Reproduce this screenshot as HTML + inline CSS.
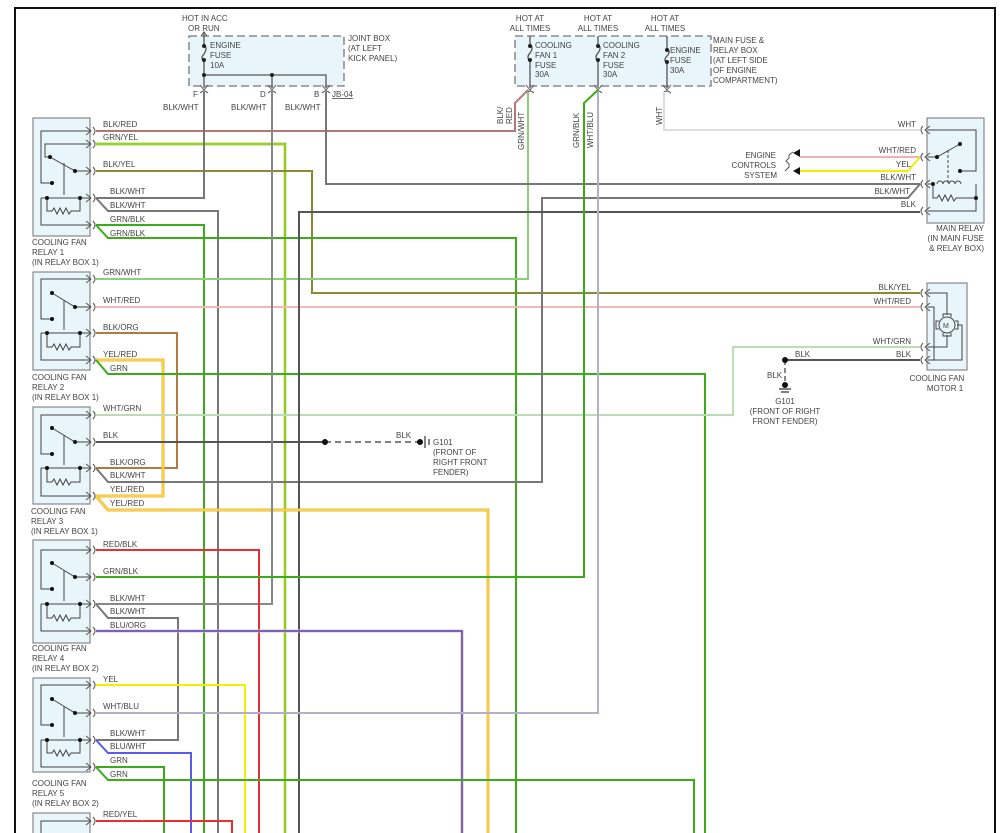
<!DOCTYPE html>
<html><head><meta charset="utf-8"><style>
html,body{margin:0;padding:0;background:#fff;}
svg{display:block;font-family:"Liberation Sans",sans-serif;font-size:8px;}
text{fill:#444;}
</style></head><body>
<svg width="1006" height="833" viewBox="0 0 1006 833" xmlns="http://www.w3.org/2000/svg">
<defs>
<g id="pinL"><path d="M86,-4 L91,0 L86,4" fill="none" stroke="#555" stroke-width="1"/><path d="M93,-4 Q97,0 93,4" fill="none" stroke="#555" stroke-width="1"/></g>
<g id="pinR"><path d="M930,-4 L925,0 L930,4" fill="none" stroke="#555" stroke-width="1"/><path d="M923,-4 Q919,0 923,4" fill="none" stroke="#555" stroke-width="1"/></g>
<g id="pinD"><path d="M-4,-3 L0,2 L4,-3" fill="none" stroke="#555" stroke-width="1"/><path d="M-4,5 Q0,1 4,5" fill="none" stroke="#555" stroke-width="1"/></g>
</defs>
<!-- frame -->
<path d="M15,833 V8 H995 V833" fill="none" stroke="#111" stroke-width="2"/>

<!-- top boxes -->
<rect x="189" y="36" width="155" height="50" fill="#e8f5fb" stroke="#777" stroke-width="1.3" stroke-dasharray="8,4"/>
<rect x="515" y="36" width="196" height="50" fill="#e8f5fb" stroke="#777" stroke-width="1.3" stroke-dasharray="8,4"/>
<g stroke="#555" stroke-width="1.3" fill="none">
<path d="M204,33 V44 M204,54 q-4,4 0,8 M204,62 V88"/>
<path d="M204,44 q4,4 0,10"/>
<path d="M204,75 H326 V88 M272,75 V88"/>
<path d="M530,36 V44 M530,62 V88"/><path d="M530,44 q4,4 0,9 q-4,4 0,9"/>
<path d="M598,36 V44 M598,62 V88"/><path d="M598,44 q4,4 0,9 q-4,4 0,9"/>
<path d="M667,36 V48 M667,64 V88"/><path d="M667,48 q4,4 0,8 q-4,4 0,8"/>
</g>
<path d="M201,36 L204,32 L207,36" fill="none" stroke="#555"/>
<g fill="#222"><circle cx="204" cy="46" r="2"/><circle cx="204" cy="60" r="2"/><circle cx="204" cy="75" r="2"/><circle cx="272" cy="75" r="2"/>
<circle cx="530" cy="46" r="2"/><circle cx="530" cy="60" r="2"/><circle cx="598" cy="46" r="2"/><circle cx="598" cy="60" r="2"/><circle cx="667" cy="50" r="2"/><circle cx="667" cy="62" r="2"/></g>
<use href="#pinD" x="204" y="88"/><use href="#pinD" x="272" y="88"/><use href="#pinD" x="326" y="88"/>
<use href="#pinD" x="530" y="88"/><use href="#pinD" x="598" y="88"/><use href="#pinD" x="667" y="88"/>
<text x="182" y="21">HOT IN ACC</text><text x="188" y="31">OR RUN</text>
<text x="210" y="48">ENGINE</text><text x="210" y="58">FUSE</text><text x="210" y="68">10A</text>
<text x="348" y="41">JOINT BOX</text><text x="348" y="51">(AT LEFT</text><text x="348" y="61">KICK PANEL)</text>
<text x="193" y="97">F</text><text x="260" y="97">D</text><text x="314" y="97">B</text>
<text x="332" y="97" text-decoration="underline">JB-04</text>
<text x="163" y="110">BLK/WHT</text><text x="231" y="110">BLK/WHT</text><text x="285" y="110">BLK/WHT</text>
<g text-anchor="middle"><text x="530" y="21">HOT AT</text><text x="530" y="31">ALL TIMES</text>
<text x="598" y="21">HOT AT</text><text x="598" y="31">ALL TIMES</text>
<text x="665" y="21">HOT AT</text><text x="665" y="31">ALL TIMES</text></g>
<text x="535" y="48">COOLING</text><text x="535" y="58">FAN 1</text><text x="535" y="68">FUSE</text><text x="535" y="77">30A</text>
<text x="603" y="48">COOLING</text><text x="603" y="58">FAN 2</text><text x="603" y="68">FUSE</text><text x="603" y="77">30A</text>
<text x="670" y="53">ENGINE</text><text x="670" y="63">FUSE</text><text x="670" y="73">30A</text>
<text x="713" y="43">MAIN FUSE &amp;</text><text x="713" y="53">RELAY BOX</text><text x="713" y="63">(AT LEFT SIDE</text><text x="713" y="73">OF ENGINE</text><text x="713" y="83">COMPARTMENT)</text>
<text transform="translate(503,124) rotate(-90)">BLK/</text><text transform="translate(512,124) rotate(-90)">RED</text>
<text transform="translate(524,150) rotate(-90)">GRN/WHT</text>
<text transform="translate(579,148) rotate(-90)">GRN/BLK</text>
<text transform="translate(593,148) rotate(-90)">WHT/BLU</text>
<text transform="translate(662,125) rotate(-90)">WHT</text>

<!-- wires -->
<g fill="none" stroke-width="2">
<polyline points="96,131 515,131 515,103 528,90" stroke="#8a6a6a"/>
<polyline points="96,131 515,131 515,103 528,90" stroke="#f09090" stroke-width="0.8"/>
<polyline points="96,144 285,144 285,833" stroke="#4caf20" stroke-width="2.4"/>
<polyline points="96,144 285,144 285,833" stroke="#f0f000" stroke-width="0.9"/>
<polyline points="96,171 312,171 312,293 920,293" stroke="#555"/>
<polyline points="96,171 312,171 312,293 920,293" stroke="#e8e000" stroke-width="0.7"/>
<polyline points="96,198 204,198 204,92" stroke="#777"/>
<polyline points="96,198 108,211 218,211 218,833" stroke="#777"/>
<polyline points="96,225 204,225 204,833" stroke="#3aab1a"/>
<polyline points="96,225 108,238 516,238 516,833" stroke="#3aab1a"/>
<polyline points="96,279 528,279 528,92" stroke="#8ad07a"/>
<polyline points="96,307 920,307" stroke="#f2b8b8"/>
<polyline points="96,333 177,333 177,468 96,468" stroke="#b07a40"/>
<polyline points="96,360 163,360 163,496 96,496" stroke="#f8a080" stroke-width="3"/>
<polyline points="96,360 163,360 163,496 96,496" stroke="#f0f000" stroke-width="1.4"/>
<polyline points="96,360 108,374 705,374 705,833" stroke="#3aab1a"/>
<polyline points="96,415 733,415 733,347 920,347" stroke="#bcdcb4"/>
<polyline points="96,442 325,442" stroke="#555"/>
<polyline points="325,442 420,442" stroke="#555" stroke-width="1.4" stroke-dasharray="6,4"/>
<polyline points="96,468 108,482 542,482 542,198 908,198 920,184" stroke="#777"/>
<polyline points="326,92 326,184 920,184" stroke="#777"/>
<polyline points="299,833 299,212 920,212" stroke="#555"/>
<polyline points="96,496 108,510 488,510 488,833" stroke="#f8a080" stroke-width="3"/>
<polyline points="96,496 108,510 488,510 488,833" stroke="#f0f000" stroke-width="1.4"/>
<polyline points="664,92 664,130 920,130" stroke="#ddd"/>
<polyline points="272,92 272,604 96,604" stroke="#888"/>
<polyline points="96,550 259,550 259,833" stroke="#e83030"/>
<polyline points="96,577 584,577 584,103 598,90" stroke="#3aab1a"/>
<polyline points="96,604 108,618 178,618 178,740 96,740" stroke="#777"/>
<polyline points="96,631 462,631 462,833" stroke="#f0c090" stroke-width="3"/>
<polyline points="96,631 462,631 462,833" stroke="#4444e0" stroke-width="1.5"/>
<polyline points="96,685 245,685 245,833" stroke="#f0f000"/>
<polyline points="96,713 598,713 598,92" stroke="#b0b0cc"/>
<polyline points="96,740 108,753 191,753 191,833" stroke="#5a5af0"/>
<polyline points="96,767 164,767 164,833" stroke="#3aab1a"/>
<polyline points="96,767 108,780 694,780 694,833" stroke="#3aab1a"/>
<polyline points="96,821 232,821 232,833" stroke="#e83030"/>
<polyline points="800,157 920,157" stroke="#f2b0b0"/>
<polyline points="800,171 908,171 920,157" stroke="#f0f000"/>
<polyline points="785,360 920,360" stroke="#555"/>
<polyline points="785,360 785,385" stroke="#555" stroke-width="1.4" stroke-dasharray="5,3"/>
</g>
<g fill="#111"><circle cx="325" cy="442" r="3"/><circle cx="420" cy="442" r="3"/><circle cx="785" cy="360" r="3"/><circle cx="785" cy="385" r="3"/></g>
<path d="M425,436 V448 M429,439 V445" stroke="#333" stroke-width="1.2"/>
<path d="M779,389 H791 M781,392 H789" stroke="#333" stroke-width="1.2"/>
<text x="396" y="438">BLK</text>
<text x="433" y="445">G101</text><text x="433" y="455">(FRONT OF</text><text x="433" y="465">RIGHT FRONT</text><text x="433" y="475">FENDER)</text>
<text x="795" y="357">BLK</text><text x="896" y="357">BLK</text><text x="767" y="378">BLK</text>
<g text-anchor="middle"><text x="785" y="404">G101</text><text x="785" y="414">(FRONT OF RIGHT</text><text x="785" y="424">FRONT FENDER)</text></g>

<!-- engine controls -->
<path d="M793,153 L800,149 V157 Z M793,171 L800,167 V175 Z" fill="#111"/>
<path d="M793,152 l-4,3 v3 l-3,3 l3,3 v3 l-4,4" transform="translate(0,0)" fill="none" stroke="#555"/>
<g text-anchor="end"><text x="776" y="158">ENGINE</text><text x="776" y="168">CONTROLS</text><text x="777" y="178">SYSTEM</text>
<text x="916" y="127">WHT</text><text x="916" y="153">WHT/RED</text><text x="911" y="167">YEL</text><text x="916" y="180">BLK/WHT</text><text x="910" y="194">BLK/WHT</text><text x="916" y="207">BLK</text>
<text x="984" y="231">MAIN RELAY</text><text x="984" y="241">(IN MAIN FUSE</text><text x="984" y="251">&amp; RELAY BOX)</text>
<text x="911" y="290">BLK/YEL</text><text x="911" y="304">WHT/RED</text><text x="911" y="344">WHT/GRN</text></g>
<g text-anchor="middle"><text x="937" y="381">COOLING FAN</text><text x="945" y="391">MOTOR 1</text></g>

<!-- main relay -->
<rect x="927" y="118" width="57" height="105" fill="#e8f5fb" stroke="#888" stroke-width="1.2"/>
<g fill="none" stroke="#444" stroke-width="1">
<path d="M928,130 H976 V171 H960"/><path d="M928,157 H937 L960,144"/><path d="M948,150 V185" stroke-dasharray="3,2"/>
<path d="M928,184 H933 M937,184 a3,3 0 0 1 6,0 a3,3 0 0 1 6,0 a3,3 0 0 1 6,0 a3,3 0 0 1 6,0"/>
<path d="M933,184 V198 H937 l2,-3 l3,6 l3,-6 l3,6 l3,-6 l3,6 l2,-3 H976 M976,198 V184 M976,198"/>
<path d="M933,184 V198"/><path d="M976,184 V211 H928"/>
</g>
<g fill="#111"><circle cx="937" cy="157" r="2"/><circle cx="960" cy="144" r="2"/><circle cx="960" cy="171" r="2"/><circle cx="933" cy="184" r="2"/><circle cx="976" cy="198" r="2"/></g>
<use href="#pinR" x="0" y="130"/><use href="#pinR" x="0" y="157"/><use href="#pinR" x="0" y="184"/><use href="#pinR" x="0" y="211"/>

<!-- motor -->
<rect x="927" y="283" width="40" height="87" fill="#e8f5fb" stroke="#888" stroke-width="1.2"/>
<g fill="none" stroke="#444" stroke-width="1">
<path d="M928,293 H947 V315 M947,335 V347 H928 M928,307 H934 V360 M928,360 H962 V325 H957"/>
<circle cx="947" cy="325" r="8" fill="#e8f5fb"/>
<path d="M939,321 H936 V329 H939 M955,321 H958 V329 H955 M943,317 V314 H951 V317 M943,333 V336 H951 V333"/>
</g>
<text x="943" y="328" font-size="7">M</text>
<use href="#pinR" x="0" y="293"/><use href="#pinR" x="0" y="307"/><use href="#pinR" x="0" y="347"/><use href="#pinR" x="0" y="360"/>

<!-- relays -->
<g fill="#e8f5fb" stroke="#888" stroke-width="1.2">
<rect x="33" y="118" width="57" height="118"/>
<rect x="33" y="272" width="57" height="98"/>
<rect x="33" y="407" width="57" height="97"/>
<rect x="33" y="540" width="57" height="103"/>
<rect x="33" y="678" width="57" height="94"/>
<rect x="33" y="813" width="57" height="40"/>
</g>
<g fill="none" stroke="#444" stroke-width="1">
<!-- R1 -->
<path d="M90,131 H41 V183 H52 M90,144 H45 V157 H50 L75,171 H90 M64,163 V195"/>
<path d="M41,198 H90 M41,198 V225 H90 M47,198 V211 H52 l2,-3 l3,6 l3,-6 l3,6 l3,-6 l3,6 l2,-3 H80 V198"/>
<!-- R2..R5 -->
<path d="M90,279 H41 V319 H52 M52,293 L75,307 H90 M64,300 V330 M41,333 H90 M41,333 V360 H90 M47,333 V347 H52 l2,-3 l3,6 l3,-6 l3,6 l3,-6 l3,6 l2,-3 H80 V333"/>
<path d="M90,415 H41 V454 H52 M52,428 L75,442 H90 M64,435 V465 M41,468 H90 M41,468 V496 H90 M47,468 V482 H52 l2,-3 l3,6 l3,-6 l3,6 l3,-6 l3,6 l2,-3 H80 V468"/>
<path d="M90,550 H41 V589 H52 M52,563 L75,577 H90 M64,570 V601 M41,604 H90 M41,604 V631 H90 M47,604 V618 H52 l2,-3 l3,6 l3,-6 l3,6 l3,-6 l3,6 l2,-3 H80 V604"/>
<path d="M90,685 H41 V725 H52 M52,699 L75,713 H90 M64,706 V737 M41,740 H90 M41,740 V767 H90 M47,740 V753 H52 l2,-3 l3,6 l3,-6 l3,6 l3,-6 l3,6 l2,-3 H80 V740"/>
<path d="M90,821 H41 V833"/>
</g>
<g fill="#fff" stroke="none"></g>
<g stroke="#e8f5fb" stroke-width="0"></g>
<g fill="#111">
<circle cx="52" cy="183" r="2"/><circle cx="50" cy="157" r="2"/><circle cx="75" cy="171" r="2"/><circle cx="47" cy="198" r="2"/><circle cx="80" cy="198" r="2"/>
<circle cx="52" cy="319" r="2"/><circle cx="52" cy="293" r="2"/><circle cx="75" cy="307" r="2"/><circle cx="47" cy="333" r="2"/><circle cx="80" cy="333" r="2"/>
<circle cx="52" cy="454" r="2"/><circle cx="52" cy="428" r="2"/><circle cx="75" cy="442" r="2"/><circle cx="47" cy="468" r="2"/><circle cx="80" cy="468" r="2"/>
<circle cx="52" cy="589" r="2"/><circle cx="52" cy="563" r="2"/><circle cx="75" cy="577" r="2"/><circle cx="47" cy="604" r="2"/><circle cx="80" cy="604" r="2"/>
<circle cx="52" cy="725" r="2"/><circle cx="52" cy="699" r="2"/><circle cx="75" cy="713" r="2"/><circle cx="47" cy="740" r="2"/><circle cx="80" cy="740" r="2"/>
</g>
<g>
<use href="#pinL" y="131"/><use href="#pinL" y="144"/><use href="#pinL" y="171"/><use href="#pinL" y="198"/><use href="#pinL" y="225"/>
<use href="#pinL" y="279"/><use href="#pinL" y="307"/><use href="#pinL" y="333"/><use href="#pinL" y="360"/>
<use href="#pinL" y="415"/><use href="#pinL" y="442"/><use href="#pinL" y="468"/><use href="#pinL" y="496"/>
<use href="#pinL" y="550"/><use href="#pinL" y="577"/><use href="#pinL" y="604"/><use href="#pinL" y="631"/>
<use href="#pinL" y="685"/><use href="#pinL" y="713"/><use href="#pinL" y="740"/><use href="#pinL" y="767"/>
<use href="#pinL" y="821"/>
</g>
<!-- wire labels -->
<text x="103" y="127">BLK/RED</text><text x="103" y="140">GRN/YEL</text><text x="103" y="167">BLK/YEL</text>
<text x="110" y="194">BLK/WHT</text><text x="110" y="208">BLK/WHT</text><text x="110" y="222">GRN/BLK</text><text x="110" y="236">GRN/BLK</text>
<text x="103" y="275">GRN/WHT</text><text x="103" y="303">WHT/RED</text><text x="103" y="330">BLK/ORG</text><text x="103" y="357">YEL/RED</text><text x="110" y="371">GRN</text>
<text x="103" y="411">WHT/GRN</text><text x="103" y="438">BLK</text><text x="110" y="465">BLK/ORG</text><text x="110" y="478">BLK/WHT</text><text x="110" y="492">YEL/RED</text><text x="110" y="506">YEL/RED</text>
<text x="103" y="547">RED/BLK</text><text x="103" y="574">GRN/BLK</text><text x="110" y="601">BLK/WHT</text><text x="110" y="614">BLK/WHT</text><text x="110" y="628">BLU/ORG</text>
<text x="103" y="682">YEL</text><text x="103" y="709">WHT/BLU</text><text x="110" y="736">BLK/WHT</text><text x="110" y="749">BLU/WHT</text><text x="110" y="763">GRN</text><text x="110" y="777">GRN</text>
<text x="103" y="817">RED/YEL</text>
<!-- relay names -->
<text x="32" y="245">COOLING FAN</text><text x="32" y="255">RELAY 1</text><text x="32" y="265">(IN RELAY BOX 1)</text>
<text x="32" y="380">COOLING FAN</text><text x="32" y="390">RELAY 2</text><text x="32" y="400">(IN RELAY BOX 1)</text>
<text x="31" y="514">COOLING FAN</text><text x="31" y="524">RELAY 3</text><text x="31" y="534">(IN RELAY BOX 1)</text>
<text x="32" y="651">COOLING FAN</text><text x="32" y="661">RELAY 4</text><text x="32" y="671">(IN RELAY BOX 2)</text>
<text x="32" y="786">COOLING FAN</text><text x="32" y="796">RELAY 5</text><text x="32" y="806">(IN RELAY BOX 2)</text>
</svg>
</body></html>
